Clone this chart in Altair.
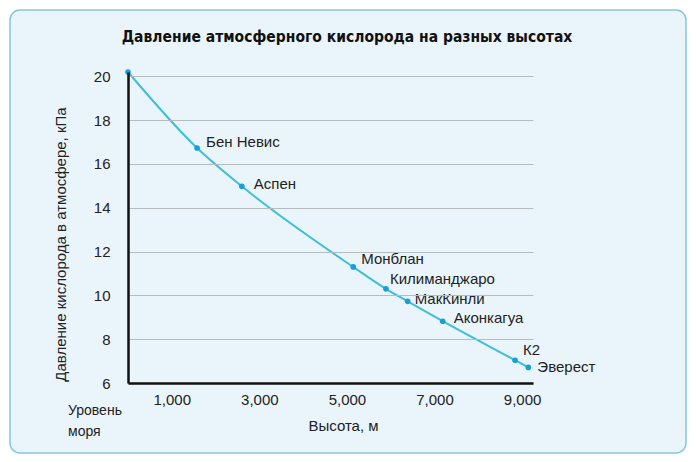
import altair as alt
import pandas as pd

# ---- data ----
places = ["Уровень моря", "Бен Невис", "Аспен", "Монблан", "Килиманджаро",
          "МакКинли", "Аконкагуа", "К2", "Эверест"]
altitude_m = [0, 1578, 2600, 5144, 5891, 6387, 7187, 8840, 9144]
pressure_kpa = [20.2, 16.73, 14.98, 11.3, 10.3, 9.73, 8.82, 7.04, 6.71]
x_tick_values = [1000, 3000, 5000, 7000, 9000]
y_tick_values = [6, 8, 10, 12, 14, 16, 18, 20]
sea_level_label = ["Уровень", "моря"]
chart_title = "Давление атмосферного кислорода на разных высотах"
x_title = "Высота, м"
y_title = "Давление кислорода в атмосфере, кПа"

df = pd.DataFrame({"place": places, "altitude": altitude_m, "pressure": pressure_kpa})

# label placement (style, not data): name -> (dx, dy)
label_offsets = {
    "Бен Невис": (9, -6), "Аспен": (12, -2), "Монблан": (8, -8),
    "Килиманджаро": (4, -10), "МакКинли": (7, -2), "Аконкагуа": (11, -3),
    "К2": (8, -10), "Эверест": (9, 0),
}

W, H = 405, 311
FONT = "Liberation Sans"
TXT = "#222222"

x_enc = alt.X("altitude:Q",
              scale=alt.Scale(domain=[0, 9250], nice=False, zero=False),
              axis=alt.Axis(values=x_tick_values, format=",.0f", title=x_title,
                            ticks=False, grid=False, domainColor="#111111",
                            domainWidth=2.5, labelPadding=9, labelFontSize=15,
                            labelColor=TXT, titleFontSize=15, titleColor=TXT,
                            titleFontWeight="normal", titleX=215, titleY=42,
                            titleBaseline="middle", zindex=1))
y_enc = alt.Y("pressure:Q",
              scale=alt.Scale(domain=[6, 20.2], nice=False, zero=False),
              axis=alt.Axis(values=y_tick_values, title=y_title, ticks=False,
                            grid=True, gridColor="#b4bcc0", gridWidth=1,
                            domainColor="#111111", domainWidth=2.5,
                            labelPadding=18, labelFontSize=15, labelColor=TXT,
                            titleFontSize=15, titleColor=TXT,
                            titleFontWeight="normal", titleX=-68, titleY=172,
                            titleAngle=-90, titleBaseline="middle", zindex=1))

box = alt.Chart(alt.Data(values=[{"k": 0}])).mark_rect(
    fill="#eaf5fb", stroke="#86c6da", strokeWidth=1.5, cornerRadius=10
).encode(x=alt.value(-118), x2=alt.value(558), y=alt.value(-62), y2=alt.value(381))

base = alt.Chart(df)
line = base.mark_line(color="#3fbfd6", strokeWidth=2, interpolate="monotone").encode(
    x=x_enc, y=y_enc)
pts = base.mark_circle(color="#1a9fd4", size=32, opacity=1).encode(x=x_enc, y=y_enc)

labels = []
for name, (dx, dy) in label_offsets.items():
    labels.append(
        base.transform_filter(alt.datum.place == name)
        .mark_text(align="left", baseline="middle", dx=dx, dy=dy, fontSize=15,
                   font=FONT, color=TXT)
        .encode(x=x_enc, y=y_enc, text="place:N"))

sea = base.transform_filter(alt.datum.altitude == 0).mark_text(
    align="left", baseline="middle", dx=-60, dy=28, fontSize=14, font=FONT,
    color=TXT, lineHeight=21
).encode(x=x_enc, y=alt.value(H), text=alt.value(sea_level_label))

title = alt.Chart(alt.Data(values=[{"k": 0}])).mark_text(
    align="center", baseline="alphabetic", fontSize=15.5, fontWeight="bold",
    font="DejaVu Sans Condensed", color="#111111"
).encode(x=alt.value(219), y=alt.value(-30), text=alt.value(chart_title))

chart = alt.layer(box, line, pts, *labels, sea, title).properties(
    width=W, height=H, autosize="none",
    padding={"left": 128, "top": 72, "right": 163, "bottom": 79},
    background="white",
).configure(font=FONT).configure_view(stroke=None)

chart.save("out.html", embed_options={"renderer": "svg", "actions": False})
